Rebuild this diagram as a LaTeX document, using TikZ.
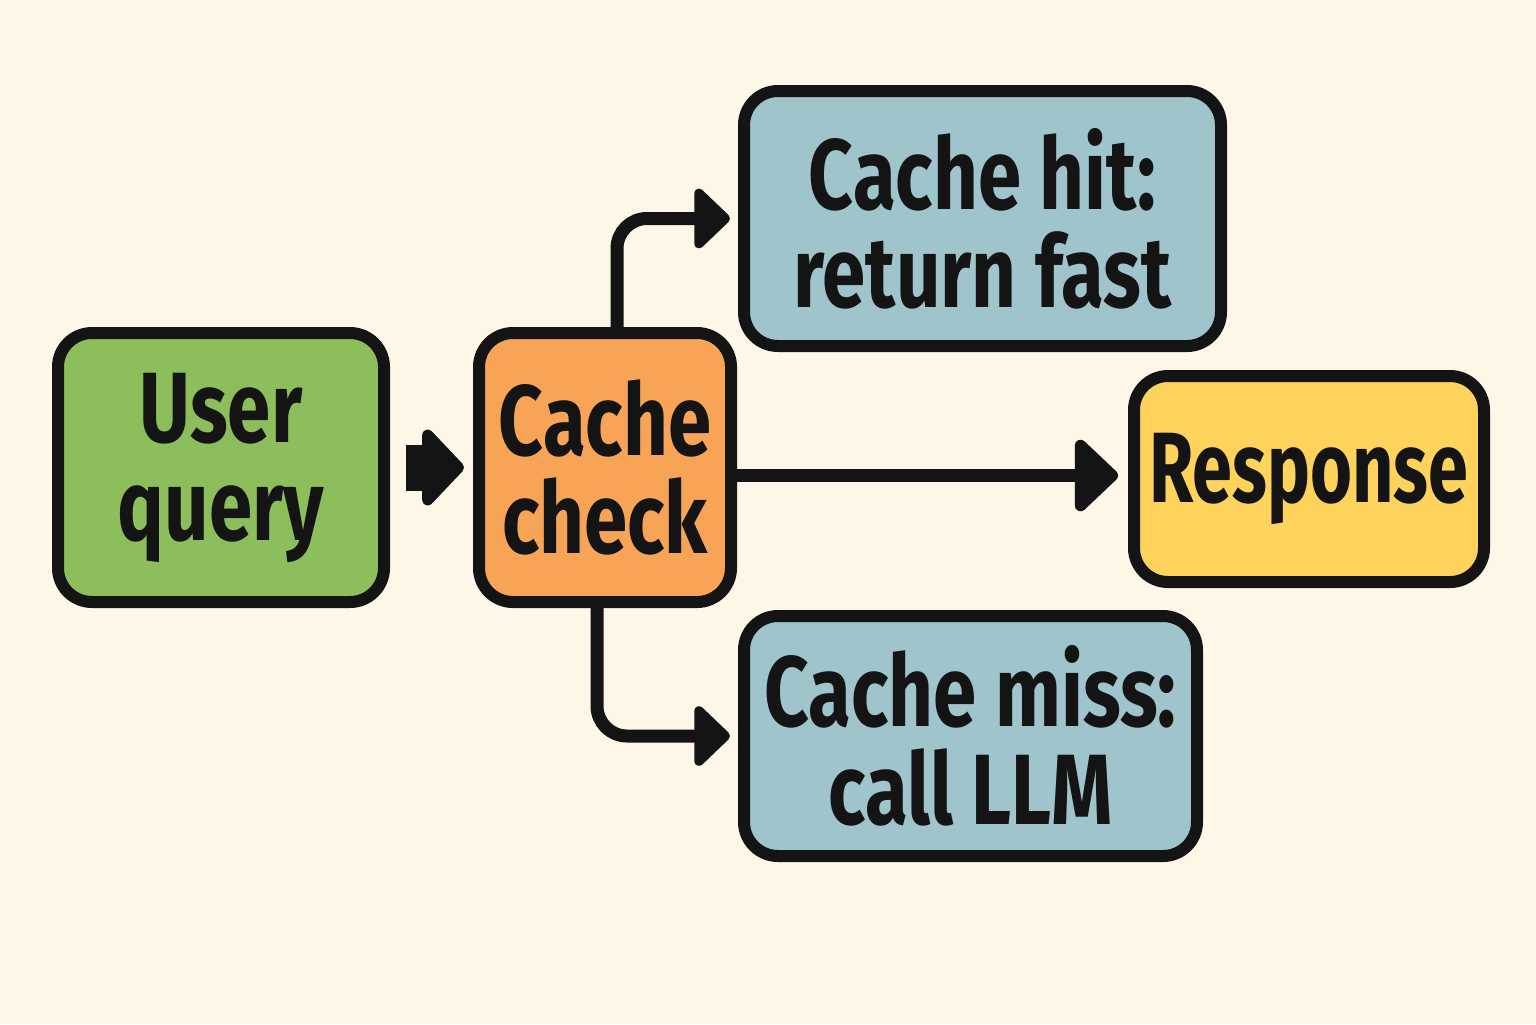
\documentclass[tikz,border=0pt]{standalone}
\usepackage{fontspec}
\newfontfamily\lbl{Fira Sans}[UprightFont=* Bold, FakeStretch=0.78]
\newfontfamily\lblnarrow{Fira Sans}[UprightFont=* Bold, FakeStretch=0.72]
\usetikzlibrary{arrows.meta}
\definecolor{bg}{HTML}{FEF7E8}
\definecolor{ink}{HTML}{141414}
\definecolor{cgreen}{HTML}{8DBE5C}
\definecolor{corange}{HTML}{F8A456}
\definecolor{cblue}{HTML}{9FC4CB}
\definecolor{cyellow}{HTML}{FDD35C}
\tikzset{
  box/.style={draw=ink, line width=6pt, rounded corners=17pt, align=center, inner sep=0pt,
    font=\lbl\fontsize{50}{49}\selectfont, text=ink},
  conn/.style={draw=ink, line width=6.5pt, rounded corners=15pt,
    -{Triangle[length=19pt,width=35pt,round]}},
  bigconn/.style={draw=ink, line width=6.5pt,
    -{Triangle[length=23pt,width=42pt,round]}},
  blockarrow/.style={draw=ink, line width=23pt,
    -{Triangle[length=22pt,width=45pt,round]}},
}
\begin{document}
\begin{tikzpicture}[x=0.5pt,y=-0.5pt]
\fill[bg] (0,0) rectangle (1536,1024);
\useasboundingbox (0,0) rectangle (1536,1024);
\node[box, fill=cgreen, minimum width=163pt, minimum height=134.5pt] (uq) at (221,467.5) {User\\query};
\node[box, fill=corange, minimum width=126pt, minimum height=134.5pt] (cc) at (605,467.5) {Cache\\check};
\node[box, fill=cblue, minimum width=238.5pt, minimum height=127.5pt] (hit) at (982.5,218.5) {Cache hit:\\return fast};
\node[box, fill=cyellow, minimum width=175pt, minimum height=103pt, font=\lblnarrow\fontsize{50}{49}\selectfont] (resp) at (1309,479) {Response};
\node[box, fill=cblue, minimum width=226.5pt, minimum height=120pt] (miss) at (970.5,736) {Cache miss:\\call LLM};
\draw[blockarrow, shorten <=8pt, shorten >=4.5pt] (uq.east) -- (cc.west);
\draw[conn, shorten >=4pt] ([xshift=6pt]cc.north) |- (hit.west);
\draw[conn, shorten >=4pt] ([xshift=-4pt]cc.south) |- (miss.west);
\draw[bigconn, shorten >=5pt] ([yshift=-4pt]cc.east) -- ([yshift=-4pt]cc.east -| resp.west);
\end{tikzpicture}
\end{document}
